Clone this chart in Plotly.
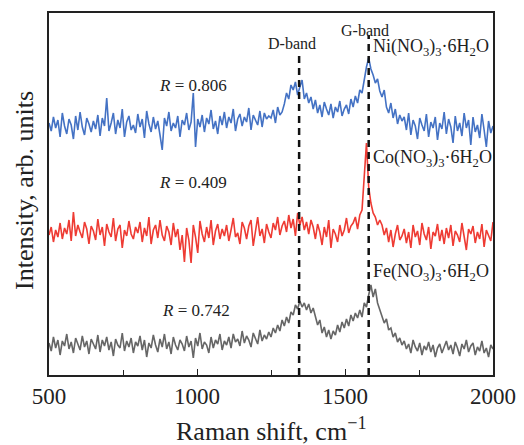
import numpy as np
import plotly.graph_objects as go

# Raman shift grid (cm^-1), 7.5 cm^-1 sampling
raman_shift = np.linspace(500, 2000, 201)

# Intensities (arb. units)
ni_intensity = [
    252,244,258,247,255,238,262,249,241,256,250,236,259,245,263,248,240,257,251,243,
    254,246,260,239,257,249,277,244,252,262,241,255,247,266,238,253,259,245,250,242,
    261,248,256,237,264,251,243,258,246,254,240,225,257,249,263,244,252,247,259,238,
    255,250,262,245,253,282,228,256,248,260,243,257,251,265,246,254,241,259,250,263,
    247,258,252,266,244,256,261,249,258,253,267,245,260,255,250,264,248,262,256,259,
    257,265,252,268,260,263,271,282,276,290,285,293,280,288,295,276,282,272,278,266,
    275,262,270,258,273,266,260,271,257,268,263,274,259,266,270,261,276,268,279,272,
    285,282,296,308,317,306,300,292,296,284,
    278,285,268,262,272,257,266,251,260,254,
    258,245,262,240,255,249,236,257,250,244,261,238,253,247,258,235,252,246,263,241,
    256,248,232,259,244,252,239,262,247,255,230,258,243,250,237,261,245,228,254,242,249,
]
co_intensity = [
    140,148,133,145,138,152,136,147,141,155,134,163,139,150,143,137,153,146,131,149,
    144,135,156,140,148,129,151,143,138,157,134,146,150,127,145,139,154,141,136,148,
    142,153,133,147,139,158,131,145,150,137,155,140,134,149,143,130,152,138,146,125,
    140,113,147,135,112,150,138,122,154,141,133,148,137,155,130,144,151,136,146,139,
    150,134,145,157,138,142,131,153,147,136,149,155,129,144,158,139,146,132,151,143,
    137,152,145,158,140,149,154,143,160,147,156,139,162,150,158,145,153,141,155,148,
    136,151,143,130,148,138,155,127,146,141,133,150,139,145,157,142,149,152,158,146,
    160,165,200,232,188,172,162,158,150,155,
    150,140,147,133,145,128,141,150,135,139,
    146,132,143,127,150,138,144,130,152,141,135,148,126,143,139,151,134,145,131,147,
    137,150,129,144,140,133,152,138,125,146,141,149,132,143,136,151,128,145,139,134,153,
]
fe_intensity = [
    32,24,38,27,35,20,34,29,41,26,33,22,37,30,25,39,28,34,21,36,
    31,26,40,23,35,29,38,25,33,19,36,30,27,42,24,34,28,37,22,33,
    29,39,25,35,18,32,27,40,30,23,36,28,41,26,33,21,38,30,25,35,
    31,24,39,28,34,17,37,29,42,26,33,30,22,38,27,35,31,41,25,34,
    30,38,27,41,33,36,29,44,32,39,35,28,42,37,31,45,34,40,36,43,
    38,47,42,50,44,55,49,58,52,63,60,70,66,74,68,72,65,71,62,67,
    58,50,55,42,48,38,45,36,44,40,50,43,53,47,56,49,60,54,62,57,
    65,58,72,68,80,90,78,86,72,66,
    60,52,56,45,47,38,42,33,37,30,
    34,26,31,22,35,28,24,32,20,29,25,33,23,30,18,27,31,22,28,34,
    25,30,21,33,27,19,31,26,35,23,29,32,20,28,24,34,22,27,18,30,26,
]

series_names = ["Ni(NO<sub>3</sub>)<sub>3</sub>·6H<sub>2</sub>O",
                "Co(NO<sub>3</sub>)<sub>3</sub>·6H<sub>2</sub>O",
                "Fe(NO<sub>3</sub>)<sub>3</sub>·6H<sub>2</sub>O"]
r_values = ["0.806", "0.409", "0.742"]
band_names = ["D-band", "G-band"]
band_positions = [1345, 1580]
x_ticks = [500, 1000, 1500, 2000]
x_minor_ticks = [750, 1250, 1750]

colors = ["#4472C4", "#EE3B33", "#666666"]
series = [ni_intensity, co_intensity, fe_intensity]

FONT = "Liberation Serif"
TXT = "#222222"
fig = go.Figure()
for ys, c in zip(series, colors):
    fig.add_trace(go.Scatter(x=raman_shift, y=ys, mode="lines",
                             line=dict(color=c, width=1.6), showlegend=False))

# dashed band markers
band_tops = [320, 340]
for bx, top in zip(band_positions, band_tops):
    fig.add_shape(type="line", x0=bx, x1=bx, y0=0, y1=top, xref="x", yref="y",
                  line=dict(color="#111111", width=2.5, dash="7px,5px"))

# band labels
band_label_x = [1321, 1567]
band_label_y = [332, 345]
for name, lx, ly in zip(band_names, band_label_x, band_label_y):
    fig.add_annotation(x=lx, y=ly, text=name, showarrow=False,
                       font=dict(family=FONT, size=16, color=TXT),
                       xanchor="center", yanchor="middle")

# series labels
name_y = [328, 217, 103]
for name, ny in zip(series_names, name_y):
    fig.add_annotation(x=1588, y=ny, text=name, showarrow=False,
                       font=dict(family=FONT, size=18, color=TXT),
                       xanchor="left", yanchor="middle")

# R labels
r_x = [986, 986, 996]
r_y = [290, 193, 65]
for rv, rx, ry in zip(r_values, r_x, r_y):
    fig.add_annotation(x=rx, y=ry, text="<i>R</i> = " + rv, showarrow=False,
                       font=dict(family=FONT, size=17, color=TXT),
                       xanchor="center", yanchor="middle")

# axis titles
fig.add_annotation(xref="paper", yref="paper", x=0.5, y=-0.15,
                   text="Raman shift, cm<sup>−1</sup>", showarrow=False,
                   font=dict(family=FONT, size=26, color=TXT),
                   xanchor="center", yanchor="middle")
fig.add_annotation(xref="paper", yref="paper", x=-0.055, y=0.51,
                   text="Intensity, arb. units", showarrow=False, textangle=-90,
                   font=dict(family=FONT, size=26, color=TXT),
                   xanchor="center", yanchor="middle")

fig.update_layout(
    width=524, height=445,
    margin=dict(l=49, r=31, t=13, b=70, autoexpand=False),
    plot_bgcolor="white", paper_bgcolor="white",
    font=dict(family=FONT, color=TXT),
    xaxis=dict(range=[500, 2000], tickvals=x_ticks, automargin=False,
               ticks="inside", ticklen=6, tickwidth=1.3, tickcolor=TXT,
               minor=dict(tickvals=x_minor_ticks, ticks="inside", ticklen=5,
                          tickwidth=1.3, tickcolor=TXT),
               showline=True, linecolor=TXT, linewidth=1.6, mirror=True,
               showgrid=False, zeroline=False,
               tickfont=dict(family=FONT, size=23, color=TXT)),
    yaxis=dict(range=[0, 362], showticklabels=False, ticks="", automargin=False,
               showline=True, linecolor=TXT, linewidth=1.6, mirror=True,
               showgrid=False, zeroline=False),
)

fig.write_html("out.html",
               config={"displayModeBar": False},
               post_script="document.body.style.margin='0px';"
                           "document.body.style.overflow='hidden';")
